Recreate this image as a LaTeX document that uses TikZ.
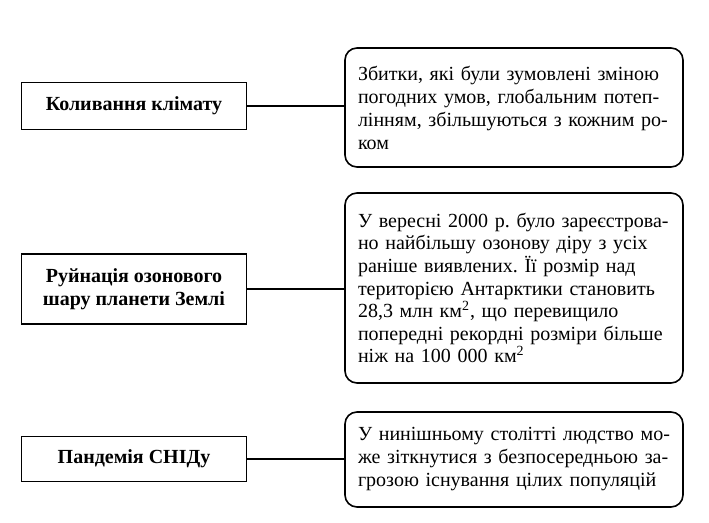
\documentclass[tikz,border=0pt]{standalone}
\usepackage{fontspec}
\setmainfont{Liberation Serif}
\frenchspacing
\newcommand{\kvadrat}{\smash{\textsuperscript{2}}}
\begin{document}
\begin{tikzpicture}[x=0.5pt,y=-0.5pt,
    problema/.style={draw, line width=0.8pt, minimum width=112.5pt, align=center, font=\bfseries\fontsize{10}{11.5}\selectfont},
    opys/.style={draw, rounded corners=6pt, line width=0.8pt, inner xsep=6.5pt, text width=156pt, align=left, font=\fontsize{10}{11.5}\selectfont}]
    \useasboundingbox (0,0) rectangle (709,523);

    % Problemy
    \node[problema, minimum height=23.5pt] (klimat) at (134,106) {Коливання клімату};
    \node[problema, minimum height=35pt] (ozon) at (134,289) {Руйнація озонового\\шару планети Землі};
    \node[problema, minimum height=22.5pt] (snid) at (134,459) {Пандемія СНІДу};

    % Opysy
    \node[opys, minimum height=59.5pt] (klimatopys) at (514,107.5) {Збитки, які були зумовлені зміною\\погодних умов, глобальним потеп-\\лінням, збільшуються з кожним ро-\\ком};
    \node[opys, minimum height=95pt, font=\fontsize{10}{11.3}\selectfont] (ozonopys) at (514,288) {У вересні 2000 р. було зареєстрова-\\но найбільшу озонову діру з усіх\\раніше виявлених. Її розмір над\\територією Антарктики становить\\28,3 млн км\kvadrat, що перевищило\\попередні рекордні розміри більше\\ніж на 100 000 км\kvadrat};
    \node[opys, minimum height=47.5pt] (snidopys) at (514,459.5) {У нинішньому столітті людство мо-\\же зіткнутися з безпосередньою за-\\грозою існування цілих популяцій};

    % Zviazky
    \draw[line width=0.8pt] (klimat.east) -- (klimat.east -| klimatopys.west);
    \draw[line width=0.8pt] (ozon.east) -- (ozon.east -| ozonopys.west);
    \draw[line width=0.8pt] (snid.east) -- (snid.east -| snidopys.west);
\end{tikzpicture}
\end{document}
